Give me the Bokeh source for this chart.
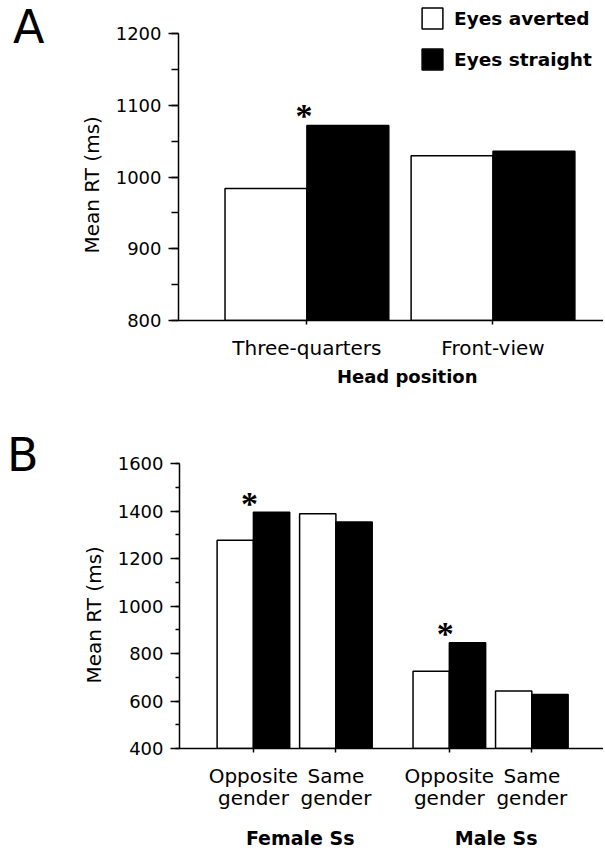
from bokeh.plotting import figure
from bokeh.layouts import column, row
from bokeh.models import (LinearAxis, FixedTicker, SingleIntervalTicker, Range1d,
                          Legend, LegendItem, Title, Div, ColumnDataSource)
from bokeh.embed import file_html
from bokeh.resources import INLINE

# ---------------- data ----------------
series_labels = ["Eyes averted", "Eyes straight"]

# Panel A
head_positions = ["Three-quarters", "Front-view"]
a_averted = [984, 1030]
a_straight = [1072, 1036]
a_signif = [True, False]
a_xlabel = "Head position"

# Panel B
subject_groups = ["Female Ss", "Male Ss"]
face_gender = ["Opposite\ngender", "Same\ngender"]
b_averted = [1278, 1389, 726, 642]
b_straight = [1396, 1355, 846, 628]
b_signif = [True, False, True, False]

y_label = "Mean RT (ms)"

# ---------------- style ----------------
FONT = "DejaVu Sans"
DIV_W = 50
W = 603 - DIV_W
BAR_W = 0.44
LW = 1.5
BLACK = "black"


def style_yaxis(ax, tick_out, minor_out):
    ax.axis_line_width = LW
    ax.major_tick_line_width = LW
    ax.minor_tick_line_width = LW
    ax.major_tick_in = 0
    ax.major_tick_out = tick_out
    ax.minor_tick_in = 0
    ax.minor_tick_out = minor_out
    ax.major_label_text_font = FONT
    ax.major_label_text_font_size = "18px"
    ax.major_label_text_color = BLACK
    ax.major_label_standoff = 7


def style_xaxis(ax):
    ax.axis_line_width = LW
    ax.major_tick_line_width = LW
    ax.major_tick_in = 0
    ax.major_tick_out = 4
    ax.major_label_text_font = FONT
    ax.major_label_text_font_size = "20px"
    ax.major_label_text_color = BLACK
    ax.major_label_standoff = 11


def title_axis(ticks, labels, standoff, size):
    ax = LinearAxis(ticker=FixedTicker(ticks=ticks),
                    major_label_overrides={t: n for t, n in zip(ticks, labels)})
    ax.axis_line_color = None
    ax.major_tick_line_color = None
    ax.major_tick_in = 0
    ax.major_tick_out = 0
    ax.major_label_standoff = standoff
    ax.major_label_text_font = FONT
    ax.major_label_text_font_size = size
    ax.major_label_text_font_style = "bold"
    ax.major_label_text_color = BLACK
    return ax


def ylabel_title(offset):
    return Title(text=y_label, align="left", offset=offset, standoff=18,
                 text_font=FONT, text_font_size="20px", text_font_style="normal",
                 text_color=BLACK)


def base_fig(height, xr, yr, left, top, bottom):
    p = figure(width=W, height=height, output_backend="svg", toolbar_location=None,
               x_range=xr, y_range=yr, x_axis_type=None, y_axis_type=None,
               min_border_left=left, min_border_right=0,
               min_border_top=top, min_border_bottom=bottom)
    p.outline_line_color = None
    p.background_fill_color = "white"
    p.border_fill_color = "white"
    return p


def star_source(pos, vals, signif):
    xs = [p for p, s in zip(pos, signif) if s]
    ys = [v for v, s in zip(vals, signif) if s]
    return ColumnDataSource(dict(x=xs, y=ys, t=["*"] * len(xs)))


def letter_div(text, height, ml, mt):
    html = (f'<div style="margin-left:{ml}px;margin-top:{mt}px;font-family:\'DejaVu Sans\';'
            f'font-size:46px;line-height:54px;color:black;">{text}</div>')
    return Div(text=html, width=DIV_W, height=height, margin=0)


# ---------------- panel A ----------------
a_pos = [float(i + 1) for i in range(len(head_positions))]
pA = base_fig(420, Range1d(0.310, 2.5938), Range1d(800, 1240.9), 178 - DIV_W, 4, 100)

srcA = ColumnDataSource(dict(
    xa=[p - BAR_W / 2 for p in a_pos], xs=[p + BAR_W / 2 for p in a_pos],
    av=a_averted, st=a_straight))
rA1 = pA.vbar(x="xa", top="av", bottom=800, width=BAR_W, source=srcA,
              fill_color="white", line_color=BLACK, line_width=LW)
rA2 = pA.vbar(x="xs", top="st", bottom=800, width=BAR_W, source=srcA,
              fill_color=BLACK, line_color=BLACK, line_width=LW)

pA.text(x="x", y="y", text="t", source=star_source(a_pos, a_straight, a_signif),
        text_font=FONT, text_font_size="34px", text_font_style="bold",
        text_align="center", text_baseline="alphabetic",
        x_offset=-3, y_offset=-10, text_color=BLACK)

yA = LinearAxis(ticker=SingleIntervalTicker(interval=100, num_minor_ticks=2),
                bounds=(800, 1200))
style_yaxis(yA, 10, 7)
pA.add_layout(yA, "left")
pA.add_layout(ylabel_title(67), "left")

xA = LinearAxis(ticker=FixedTicker(ticks=a_pos),
                major_label_overrides={p: n for p, n in zip(a_pos, head_positions)})
style_xaxis(xA)
pA.add_layout(xA, "below")
pA.add_layout(title_axis([sum(a_pos) / len(a_pos) + 0.039], [a_xlabel], 3, "18px"), "below")

legend = Legend(items=[LegendItem(label=series_labels[0], renderers=[rA1]),
                       LegendItem(label=series_labels[1], renderers=[rA2])],
                location=(241, 248), glyph_width=26, glyph_height=26,
                label_height=26, label_standoff=9, spacing=15, padding=0, margin=0,
                border_line_color=None, background_fill_alpha=0,
                label_text_font=FONT, label_text_font_style="bold",
                label_text_font_size="18.5px", label_text_color=BLACK)
pA.add_layout(legend)

# ---------------- panel B ----------------
GROUP_GAP = 0.375
b_pos = []
b_tick_labels = []
group_centers = []
for g, grp in enumerate(subject_groups):
    ps = []
    for k, lab in enumerate(face_gender):
        ps.append(g * (len(face_gender) + GROUP_GAP) + k)
        b_tick_labels.append(lab)
    b_pos += ps
    group_centers.append(sum(ps) / len(ps) + 0.068)

pB = base_fig(434, Range1d(-0.8958, 4.2436), Range1d(400, 1601), 179 - DIV_W, 43, 106)

srcB = ColumnDataSource(dict(
    xa=[p - BAR_W / 2 for p in b_pos], xs=[p + BAR_W / 2 for p in b_pos],
    av=b_averted, st=b_straight))
pB.vbar(x="xa", top="av", bottom=400, width=BAR_W, source=srcB,
        fill_color="white", line_color=BLACK, line_width=LW)
pB.vbar(x="xs", top="st", bottom=400, width=BAR_W, source=srcB,
        fill_color=BLACK, line_color=BLACK, line_width=LW)

pB.text(x="x", y="y", text="t", source=star_source(b_pos, b_straight, b_signif),
        text_font=FONT, text_font_size="34px", text_font_style="bold",
        text_align="center", text_baseline="alphabetic",
        x_offset=-4, y_offset=-9, text_color=BLACK)

yB = LinearAxis(ticker=SingleIntervalTicker(interval=200, num_minor_ticks=2),
                bounds=(400, 1600))
style_yaxis(yB, 9, 4)
pB.add_layout(yB, "left")
pB.add_layout(ylabel_title(65), "left")

xB = LinearAxis(ticker=FixedTicker(ticks=b_pos),
                major_label_overrides={p: n for p, n in zip(b_pos, b_tick_labels)})
style_xaxis(xB)
xB.major_label_text_line_height = 0.95
pB.add_layout(xB, "below")
pB.add_layout(title_axis(group_centers, subject_groups, 13, "19px"), "below")

layout = column(row(letter_div("A", 420, 13, 0), pA, spacing=0),
                row(letter_div("B", 434, 7, 8), pB, spacing=0),
                spacing=0)
open("out.html", "w").write(file_html(layout, INLINE))
